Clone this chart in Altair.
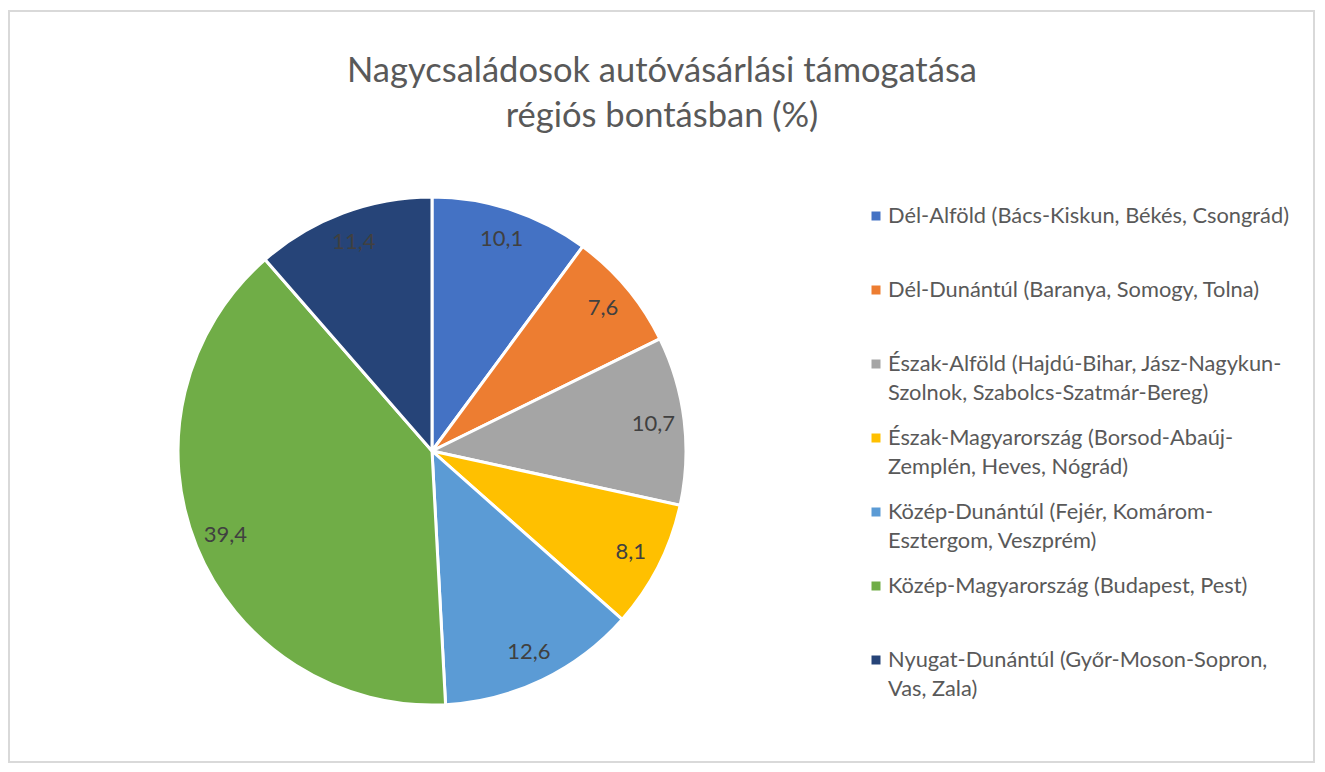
import altair as alt
import pandas as pd

# ---- data ----
regions = [
    "Dél-Alföld (Bács-Kiskun, Békés, Csongrád)",
    "Dél-Dunántúl (Baranya, Somogy, Tolna)",
    "Észak-Alföld (Hajdú-Bihar, Jász-Nagykun-Szolnok, Szabolcs-Szatmár-Bereg)",
    "Észak-Magyarország (Borsod-Abaúj-Zemplén, Heves, Nógrád)",
    "Közép-Dunántúl (Fejér, Komárom-Esztergom, Veszprém)",
    "Közép-Magyarország (Budapest, Pest)",
    "Nyugat-Dunántúl (Győr-Moson-Sopron, Vas, Zala)",
]
legend_labels = [
    "Dél-Alföld (Bács-Kiskun, Békés, Csongrád)",
    "Dél-Dunántúl (Baranya, Somogy, Tolna)",
    "Észak-Alföld (Hajdú-Bihar, Jász-Nagykun-\nSzolnok, Szabolcs-Szatmár-Bereg)",
    "Észak-Magyarország (Borsod-Abaúj-\nZemplén, Heves, Nógrád)",
    "Közép-Dunántúl (Fejér, Komárom-\nEsztergom, Veszprém)",
    "Közép-Magyarország (Budapest, Pest)",
    "Nyugat-Dunántúl (Győr-Moson-Sopron,\nVas, Zala)",
]
values = [10.1, 7.6, 10.7, 8.1, 12.6, 39.4, 11.4]
colors = ["#4472C4", "#ED7D31", "#A5A5A5", "#FFC000", "#5B9BD5", "#70AD47", "#264478"]
title_lines = ["Nagycsaládosok autóvásárlási támogatása", "régiós bontásban (%)"]

df = pd.DataFrame({
    "region": regions,
    "legend": legend_labels,
    "value": values,
    "label": [f"{v:.1f}".replace(".", ",") for v in values],
    "idx": list(range(len(regions))),
})
title_df = pd.DataFrame({"title": ["\n".join(title_lines)]})

FONT = "Lato"
W, H = 1305, 751
CX, CY = 423, 440

color = alt.Color("region:N", scale=alt.Scale(domain=regions, range=colors), legend=None)

base = alt.Chart(df)

pie = base.mark_arc(outerRadius=254, stroke="white", strokeWidth=3).encode(
    theta=alt.Theta("value:Q", stack=True),
    color=color,
    order=alt.Order("idx:Q"),
    x=alt.value(CX),
    y=alt.value(CY),
)

labels = base.mark_text(radius=223, font=FONT, fontSize=22, color="#404040").encode(
    theta=alt.Theta("value:Q", stack=True),
    order=alt.Order("idx:Q"),
    text="label:N",
    x=alt.value(CX),
    y=alt.value(CY),
)

ypos = alt.Y("idx:Q", scale=alt.Scale(domain=[0, 6], range=[205, 649]), axis=None)

leg_sym = base.mark_square(size=81, opacity=1).encode(
    x=alt.value(867),
    y=ypos,
    color=color,
)

leg_txt = base.mark_text(
    align="left", baseline="top", dy=-10, font=FONT, fontSize=21.8,
    color="#595959", lineBreak="\n", lineHeight=29,
).encode(
    x=alt.value(879),
    y=ypos,
    text="legend:N",
)

title = alt.Chart(title_df).mark_text(
    align="center", baseline="top", font=FONT, fontSize=34.5,
    color="#595959", lineBreak="\n", lineHeight=45,
).encode(
    x=alt.value(653),
    y=alt.value(44),
    text="title:N",
)

chart = alt.layer(pie, labels, leg_sym, leg_txt, title).properties(
    width=W, height=H,
    padding={"left": 1, "top": 3, "right": 1, "bottom": 1},
).configure_view(
    stroke="#d9d9d9", strokeWidth=2,
)

chart.save("out.html", embed_options={"renderer": "svg", "actions": False})
